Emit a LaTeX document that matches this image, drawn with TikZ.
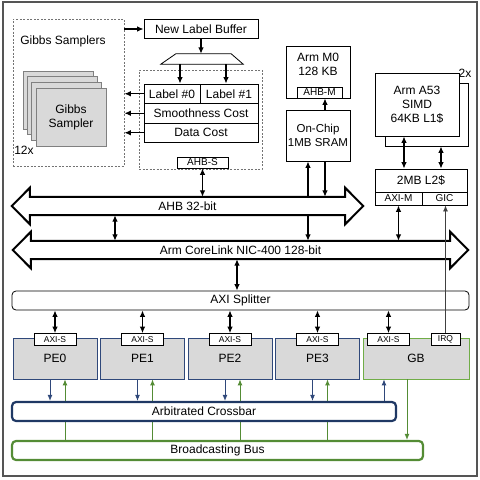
\documentclass[tikz,border=0pt]{standalone}
\usepackage{fontspec}
\setmainfont{Liberation Sans}
\usetikzlibrary{arrows.meta,backgrounds}
\definecolor{peblue}{RGB}{47,72,122}
\definecolor{barblue}{RGB}{31,56,100}
\definecolor{busgreen}{RGB}{84,140,53}
\definecolor{gbgreen}{RGB}{112,173,71}
\definecolor{pegray}{RGB}{217,217,217}
\definecolor{framegray}{RGB}{85,85,85}
\begin{document}
\begin{tikzpicture}[x=1pt,y=-1pt,font=\fontsize{12}{14}\selectfont]
\tikzstyle{box}=[rectangle,draw,fill=white,inner sep=0,line width=0.8pt]
\tikzstyle{port}=[box,font=\fontsize{10}{10}\selectfont]
\tikzstyle{peport}=[box,font=\fontsize{8.5}{9}\selectfont,minimum width=42pt,minimum height=12pt]
\tikzset{
	dash box/.style={rectangle,draw=black!55,dash pattern=on 2pt off 1.5pt,line width=0.8pt,inner sep=0},
	sampler/.style={rectangle,draw=black!50,fill=pegray,line width=0.7pt,minimum width=70pt,minimum height=58pt,align=center},
	arr/.style={line width=1.2pt,-{Latex[length=6.5pt,width=5.5pt]}},
	darr/.style={line width=1.2pt,{Latex[length=6.5pt,width=5.5pt]}-{Latex[length=6.5pt,width=5.5pt]}},
	blue arr/.style={draw=peblue,line width=0.9pt,-{Latex[length=6pt,width=5pt]}},
	green arr/.style={draw=busgreen,line width=0.9pt,-{Latex[length=6pt,width=5pt]}},
	bus/.style={rectangle,inner sep=0,minimum height=18pt},
	bus line/.style={draw,fill=white,line width=2pt,line join=miter},
	pe/.style={rectangle,draw=peblue,fill=pegray,line width=0.8pt,minimum width=84pt,minimum height=41pt},
	bar/.style={rectangle,rounded corners=4pt,fill=white,line width=2.2pt,minimum height=19pt}
}
\useasboundingbox (0,0) rectangle (480,480);
\draw[framegray,line width=1.3pt] (3,2) rectangle (477,476);

% Gibbs samplers
\node[dash box,minimum width=111pt,minimum height=147pt] (gibbs) at (68.5,92.5) {};
\node (gtitle) at (63,41) {Gibbs Samplers};
\foreach \i in {0,1,2}
	\node[sampler] (s\i) at ({58+4.3*\i},{100+5.7*\i}) {};
\node[sampler] (smp) at (71,117) {Gibbs\\Sampler};
\node (cnt) at (24,150) {12x};

% label buffer and memories
\node[box,minimum width=114pt,minimum height=19pt] (nlb) at (201,29) {New Label Buffer};
\draw[arr] (gibbs.east |- nlb.west) -- (nlb.west);
\node[inner sep=0,minimum width=82pt,minimum height=10pt] (mux) at (202,59) {};
\draw[line width=0.8pt] (mux.south west) -- (mux.south east) -- ([xshift=-12pt]mux.north east) -- ([xshift=15pt]mux.north west) -- cycle;
\draw[arr] (nlb.south) -- (nlb.south |- mux.north);
\node[dash box,minimum width=123pt,minimum height=99pt] (mem) at (200.5,119.5) {};
\node[box,minimum width=56pt,minimum height=19.5pt] (lab0) at (172,93.75) {Label \#0};
\node[box,minimum width=58pt,minimum height=19.5pt] (lab1) at (229,93.75) {Label \#1};
\node[box,minimum width=114pt,minimum height=19.5pt] (smooth) at (201,113.25) {Smoothness Cost};
\node[box,minimum width=114pt,minimum height=19.5pt] (data) at (201,132.75) {Data Cost};
\draw[arr] ([xshift=8pt]lab0.north |- mux.south) -- ([xshift=8pt]lab0.north);
\draw[arr] ([xshift=-3pt]lab1.north |- mux.south) -- ([xshift=-3pt]lab1.north);
\foreach \c in {lab0,smooth,data}
	\draw[arr] (\c.west) -- (gibbs.east |- \c.west);
\node[port,minimum width=51pt,minimum height=11pt] (ahbs) at (202.5,162.5) {AHB-S};

% M0 and SRAM
\node[box,minimum width=64pt,minimum height=52pt] (m0) at (318,72) {};
\node[align=center] (m0txt) at (318,64.5) {Arm M0\\128 KB};
\node[port,minimum width=45pt,minimum height=11pt] (ahbm) at (319.5,92.5) {AHB-M};
\node[box,align=center,minimum width=64pt,minimum height=51pt,font=\fontsize{11.5}{14}\selectfont] (sram) at (318,135.5) {On-Chip\\1MB SRAM};
\draw[arr] ([xshift=7pt]sram.north) -- ([xshift=7pt]sram.north |- ahbm.south);

% A53 cluster
\node[box,minimum width=83pt,minimum height=63pt] (a53b) at (426.5,114.5) {};
\node[box,align=center,minimum width=84pt,minimum height=63pt] (a53) at (417,104.5) {Arm A53\\SIMD\\64KB L1\$};
\node (dup) at (465,73) {2x};
\node[box,minimum width=92pt,minimum height=23pt] (l2) at (421,180.5) {2MB L2\$};
\node[port,minimum width=47pt,minimum height=13pt] (axim) at (398.5,198.5) {AXI-M};
\node[port,minimum width=45pt,minimum height=13pt] (gic) at (444.5,198.5) {GIC};
\draw[darr] ([xshift=-13pt]a53.south) -- ([xshift=-13pt]a53.south |- l2.north);
\draw[darr] ([xshift=14.5pt]a53b.south) -- ([xshift=14.5pt]a53b.south |- l2.north);

% buses
\node[bus,minimum width=315pt] (ahb) at (187.5,206) {AHB 32-bit};
\node[bus,minimum width=419pt] (nic) at (240.5,250) {Arm CoreLink NIC-400 128-bit};
\begin{pgfonlayer}{background}
\draw[darr] ([xshift=-10pt]sram.south) -- ([xshift=-10pt]sram.south |- nic.north);
\foreach \b in {ahb,nic}
	\draw[bus line] (\b.north west) -- (\b.north east) -- ([yshift=9pt]\b.north east) -- ([xshift=18pt]\b.east) -- ([yshift=-9pt]\b.south east) -- (\b.south east) -- (\b.south west) -- ([yshift=-9pt]\b.south west) -- ([xshift=-18pt]\b.west) -- ([yshift=9pt]\b.north west) -- cycle;
\end{pgfonlayer}
\draw[arr] ([xshift=7pt]sram.south) -- ([xshift=7pt]sram.south |- ahb.north);
\draw[darr] (ahbs.south) -- (ahbs.south |- ahb.north);
\draw[darr] (115,0 |- ahb.south) -- (115,0 |- nic.north);
\draw[darr] (axim.south) -- (axim.south |- nic.north);
\node[bar,draw=black,line width=0.8pt,minimum width=457pt] (split) at (240.5,300.5) {AXI Splitter};
\draw[darr] (237,0 |- nic.south) -- (237,0 |- split.north);

% processing elements
\node[bar,draw=barblue,minimum width=384pt] (xbar) at (204,411.5) {Arbitrated Crossbar};
\node[bar,draw=busgreen,minimum width=411pt] (bcast) at (217.5,450.5) {Broadcasting Bus};
\foreach \i/\x in {0/55,1/142.5,2/230,3/317.5} {
	\node[pe] (pe\i) at (\x,358.5) {PE\i};
	\node[peport] (axis\i) at ([yshift=-2pt]pe\i.north) {AXI-S};
	\draw[darr] (axis\i.north) -- (axis\i.north |- split.south);
	\draw[blue arr] ([xshift=-5pt]pe\i.south) -- ([xshift=-5pt]pe\i.south |- xbar.north);
	\begin{pgfonlayer}{background}
	\draw[green arr] ([xshift=10pt]pe\i.south |- bcast.north) -- ([xshift=10pt]pe\i.south);
	\end{pgfonlayer}
}
\node[pe,draw=gbgreen,minimum width=106pt] (gb) at (416,358.5) {GB};
\node[peport] (axis4) at ([xshift=-27.5pt,yshift=-2pt]gb.north) {AXI-S};
\node[peport,minimum width=29pt] (irq) at ([xshift=29.5pt,yshift=-2pt]gb.north) {IRQ};
\draw[darr] (axis4.north) -- (axis4.north |- split.south);
\draw[black!75,line width=0.8pt,-{Latex[length=6pt,width=5pt]}] (irq.north) -- (irq.north |- gic.south);
\draw[blue arr] ([xshift=-32pt]gb.south |- xbar.north) -- ([xshift=-32pt]gb.south);
\draw[green arr] ([xshift=-9pt]gb.south) -- ([xshift=-9pt]gb.south |- bcast.north);
\end{tikzpicture}
\end{document}
